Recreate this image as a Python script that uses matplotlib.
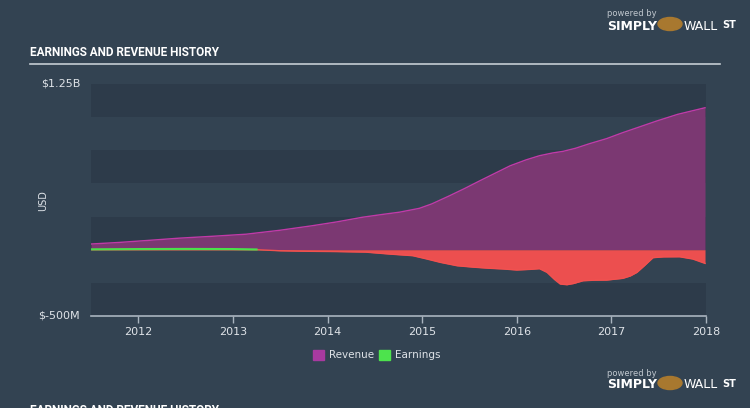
import matplotlib.pyplot as plt
from matplotlib.patches import Circle, Rectangle

# Revenue (USD millions) by fractional year
rev_years = [2011.50, 2011.80, 2012.10, 2012.43, 2012.80, 2013.14, 2013.50, 2013.84,
             2014.10, 2014.37, 2014.60, 2014.76, 2014.97, 2015.10, 2015.29, 2015.45,
             2015.61, 2015.78, 2015.93, 2016.10, 2016.24, 2016.38, 2016.49, 2016.62,
             2016.77, 2016.95, 2017.12, 2017.30, 2017.48, 2017.70, 2017.99]
revenue = [43, 55, 70, 87, 102, 117, 147, 181, 210, 245, 268, 283, 312, 345, 407, 462,
           520, 580, 633, 678, 709, 730, 742, 765, 800, 838, 883, 927, 971, 1021, 1071]

# Earnings (USD millions)
earn_years = [2011.50, 2012.00, 2012.50, 2013.00, 2013.25, 2013.50, 2013.80, 2014.10,
              2014.40, 2014.66, 2014.90, 2015.05, 2015.19, 2015.37, 2015.55, 2015.71,
              2015.85, 2016.00, 2016.15, 2016.24, 2016.32, 2016.40, 2016.46, 2016.53,
              2016.60, 2016.70, 2016.82, 2016.95, 2017.12, 2017.20, 2017.27, 2017.35,
              2017.44, 2017.55, 2017.72, 2017.86, 2017.99]
earnings = [3, 5, 6, 5, 2, -8, -12, -14, -18, -33, -45, -70, -95, -121, -132, -140,
            -145, -153, -148, -143, -171, -225, -259, -264, -255, -234, -230, -229,
            -216, -198, -171, -120, -60, -54, -53, -70, -103]

year_ticks = [2012, 2013, 2014, 2015, 2016, 2017, 2018]

bg = '#334352'
band = '#2d3b4a'
txt = '#dfe3e8'
title_font = ['Roboto', 'DejaVu Sans']

fig = plt.figure(figsize=(7.5, 4.08), dpi=100, facecolor=bg)
ax = fig.add_axes([0.1213, 0.2255, 0.82, 0.5686])
ax.set_facecolor(bg)

for lo in [1000, 500, 0, -500]:
    ax.axhspan(lo, lo + 250, color=band, lw=0, zorder=0)

ax.fill_between(rev_years, 0, revenue, color='#7b3872', lw=0, zorder=2)
ax.plot(rev_years, revenue, color='#c13aa8', lw=1.0, zorder=3)

neg = [min(e, 0) for e in earnings]
pos = [max(e, 0) for e in earnings]
ax.fill_between(earn_years, 0, neg, color='#ec4f4f', lw=0, zorder=2)
ax.plot(earn_years, neg, color='#f2514f', lw=1.0, zorder=3)
ax.fill_between(earn_years, 0, pos, color='#4be04b', lw=0, zorder=2)
ax.plot([y for y, e in zip(earn_years, earnings) if e >= 0],
        [e for e in earnings if e >= 0], color='#4be04b', lw=1.5, zorder=3)

ax.set_xlim(2011.5, 2018.0)
ax.set_ylim(-500, 1250)
ax.set_xticks(year_ticks)
ax.set_xticklabels([str(y) for y in year_ticks], fontsize=8)
ax.set_yticks([])
ax.tick_params(axis='x', colors='#a9b4bf', length=5, width=1, pad=3, labelcolor=txt)
for s in ['top', 'left', 'right']:
    ax.spines[s].set_visible(False)
ax.spines['bottom'].set_color('#a9b4bf')
ax.spines['bottom'].set_linewidth(1.2)

fig.text(80 / 750, 1 - 84 / 408, '$1.25B', color=txt, fontsize=8, ha='right', va='center')
fig.text(80 / 750, 1 - 316 / 408, '$-500M', color=txt, fontsize=8, ha='right', va='center')
fig.text(43 / 750, 1 - 201 / 408, 'USD', color=txt, fontsize=7, rotation=90,
         ha='center', va='center')

fig.text(30 / 750, 1 - 52 / 408, 'EARNINGS AND REVENUE HISTORY', color='white',
         fontsize=8.5, fontweight='bold', family=title_font, ha='left', va='center')
fig.add_artist(plt.Line2D([30 / 750, 720 / 750], [1 - 63.5 / 408] * 2, color='#c5ccd3', lw=1.2))

# legend
leg_y = 1 - 355 / 408
fig.patches.append(Rectangle((313 / 750, leg_y - 0.012), 11 / 750, 0.025, color='#a83aa0',
                             transform=fig.transFigure, figure=fig))
fig.text(329 / 750, leg_y, 'Revenue', color=txt, fontsize=7.5, va='center')
fig.patches.append(Rectangle((379 / 750, leg_y - 0.012), 11 / 750, 0.025, color='#4de34d',
                             transform=fig.transFigure, figure=fig))
fig.text(395 / 750, leg_y, 'Earnings', color=txt, fontsize=7.5, va='center')

# watermarks
for ty in [14, 373]:
    fig.text(607 / 750, 1 - ty / 408, 'powered by', color='#c0c7ce', fontsize=6, va='center')
    fig.text(607 / 750, 1 - (ty + 12) / 408, 'SIMPLY', color='white', fontsize=9,
             fontweight='bold', va='center')
    fig.patches.append(Circle((670 / 750, 1 - (ty + 10) / 408), 0.016, color='#a8782f',
                              transform=fig.transFigure, figure=fig))
    fig.text(684 / 750, 1 - (ty + 12) / 408, 'WALL', color='white', fontsize=9, va='center')
    fig.text(722 / 750, 1 - (ty + 11) / 408, 'ST', color='white', fontsize=7,
             fontweight='bold', va='center')

fig.text(30 / 750, 1 - 411 / 408, 'EARNINGS AND REVENUE HISTORY', color='white',
         fontsize=8.5, fontweight='bold', family=title_font, ha='left', va='center')

fig.savefig('out.png', dpi=100, facecolor=bg)
